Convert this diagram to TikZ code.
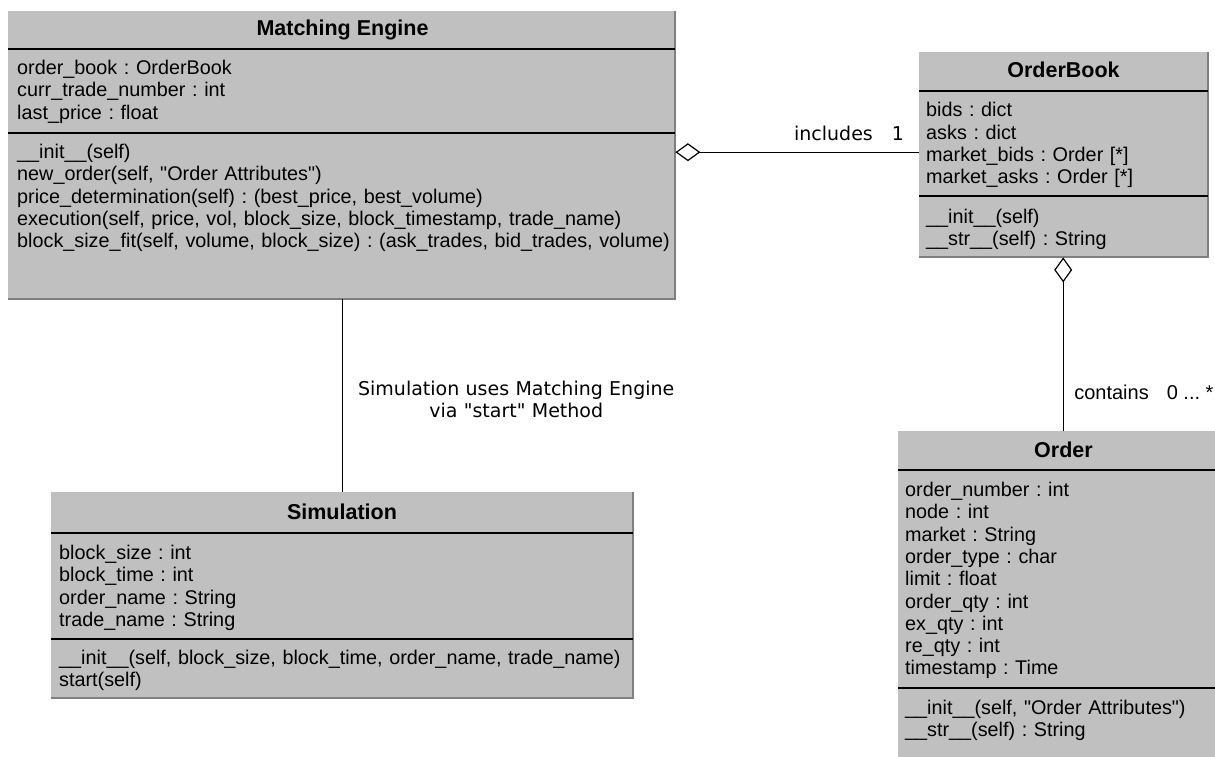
\documentclass[tikz,border=0pt]{standalone}
\usepackage{fontspec}
\setmainfont{Liberation Sans}[Ligatures=TeXOff]
\newfontfamily\labelfont{DejaVu Sans}
\usetikzlibrary{arrows.meta, positioning}
\definecolor{boxGray}{RGB}{192,192,192}
\definecolor{edgeGray}{RGB}{128,128,128}
\frenchspacing

\begin{document}
\begin{tikzpicture}[x=1pt, y=-1pt,
    classbox/.style={fill=boxGray, inner sep=0pt, anchor=north west},
    boxedge/.style={edgeGray, line width=2pt},
    sep/.style={black, line width=1.5pt},
    title/.style={font=\fontsize{21.5}{22.3}\selectfont\bfseries, anchor=base, inner sep=0pt},
    members/.style={font=\fontsize{19.8}{22.3}\selectfont, anchor=base west, inner sep=0pt, align=left, text width=#1},
    assoc/.style={black, line width=1.2pt},
    aggr/.style={assoc, -{Diamond[open, length=25pt, width=18pt]}},
    linklabel/.style={font=\labelfont\fontsize{19}{22.5}\selectfont, inner sep=0pt}]
    \useasboundingbox (0,0) rectangle (1215,757);

    % Matching Engine
    \node[classbox, minimum width=667pt, minimum height=288pt] (engine) at (8,11) {};
    \draw[boxedge] (engine.north east) -- (engine.south east) -- (engine.south west);
    \draw[sep] (8,49) -- (675,49);
    \draw[sep] (8,133) -- (675,133);
    \node[title] (engine-name) at (342.5,35.5) {Matching Engine};
    \node[members=760pt] (engine-attr) at (17,74.5) {order\_book : OrderBook\\curr\_trade\_number : int\\last\_price : float};
    \node[members=760pt] (engine-ops) at (17,158.5) {\_\_init\_\_(self)\\new\_order(self, "Order Attributes")\\price\_determination(self) : (best\_price, best\_volume)\\execution(self, price, vol, block\_size, block\_timestamp, trade\_name)\\block\_size\_fit(self, volume, block\_size) : (ask\_trades, bid\_trades, volume)};

    % OrderBook
    \node[classbox, minimum width=289pt, minimum height=205pt] (book) at (919,52) {};
    \draw[boxedge] (book.north east) -- (book.south east) -- (book.south west);
    \draw[sep] (919,91) -- (1208,91);
    \draw[sep] (919,196) -- (1208,196);
    \node[title] (book-name) at (1063.5,77.5) {OrderBook};
    \node[members=400pt] (book-attr) at (926,117) {bids : dict\\asks : dict\\market\_bids : Order [*]\\market\_asks : Order [*]};
    \node[members=400pt] (book-ops) at (926,223) {\_\_init\_\_(self)\\\_\_str\_\_(self) : String};

    % Order (runs off the page)
    \node[classbox, minimum width=330pt, minimum height=344pt] (order) at (898,431) {};
    \draw[sep] (898,470) -- (1228,470);
    \draw[sep] (898,688) -- (1228,688);
    \node[title] (order-name) at (1063.5,457.5) {Order};
    \node[members=400pt] (order-attr) at (905,496.5) {order\_number : int\\node : int\\market : String\\order\_type : char\\limit : float\\order\_qty : int\\ex\_qty : int\\re\_qty : int\\timestamp : Time};
    \node[members=400pt] (order-ops) at (905,714.5) {\_\_init\_\_(self, "Order Attributes")\\\_\_str\_\_(self) : String};

    % Simulation
    \node[classbox, minimum width=582pt, minimum height=206pt] (sim) at (51,492) {};
    \draw[boxedge] (sim.north east) -- (sim.south east) -- (sim.south west);
    \draw[sep] (51,533) -- (633,533);
    \draw[sep] (51,639) -- (633,639);
    \node[title] (sim-name) at (342,519.5) {Simulation};
    \node[members=700pt] (sim-attr) at (59,559.5) {block\_size : int\\block\_time : int\\order\_name : String\\trade\_name : String};
    \node[members=700pt] (sim-ops) at (59,664.5) {\_\_init\_\_(self, block\_size, block\_time, order\_name, trade\_name)\\start(self)};

    % Associations
    \draw[aggr] ([yshift=2.5pt]book.west) -- ([yshift=2.5pt]book.west -| engine.east)
        node[linklabel, at start, anchor=base east, xshift=-14.5pt, yshift=11.5pt] (includes) {includes\hspace{19pt}1};
    \draw[aggr] (order.north) -- (order.north |- book.south)
        node[at start, anchor=base west, inner sep=0pt, xshift=10.5pt, yshift=32pt, font=\fontsize{20}{22}\selectfont] (contains) {contains\hspace{18pt}0 ... *};
    \draw[assoc] (sim.north) -- (sim.north |- engine.south)
        node[linklabel, midway, anchor=base, xshift=174pt, yshift=0.5pt, text width=360pt, align=center] (uses) {Simulation uses Matching Engine\\via "start" Method};
\end{tikzpicture}
\end{document}
